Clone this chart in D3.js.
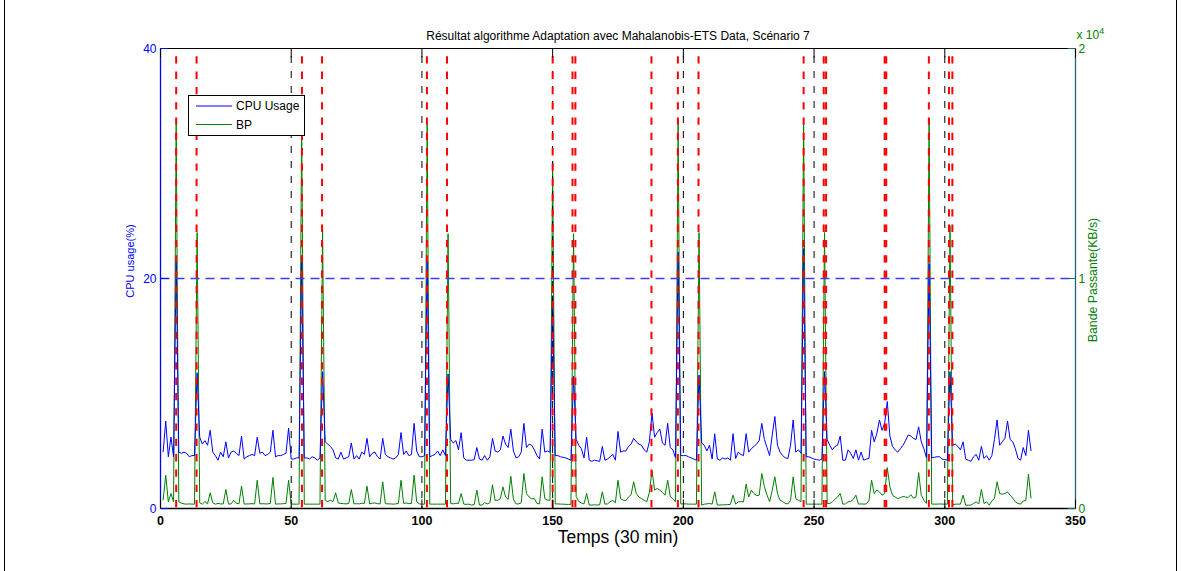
<!DOCTYPE html>
<html><head><meta charset="utf-8">
<script src="https://cdn.jsdelivr.net/npm/d3@7"></script>
<style>
body{margin:0;background:#fff}
svg{display:block}
text{font-family:"Liberation Sans",Arial,Helvetica,sans-serif}
</style>
</head><body>
<svg id="chart" width="1181" height="571"></svg>
<script>
// ---------------- DATA ----------------
const chartTitle = "Résultat algorithme Adaptation avec Mahalanobis-ETS Data, Scénario 7";
const xLabel = "Temps (30 min)";
const yLeftLabel = "CPU usage(%)";
const yRightLabel = "Bande Passante(KB/s)";
const seriesNames = ["CPU Usage", "BP"];

// CPU usage (%) for time index 1..333
const cpuUsage = [
4.9,7.6,4.5,6.2,4.5,21.5,4.9,4.8,4.9,4.8, 4.5,4.6,4.6,11.8,6.2,5.6,5.9,5.5,6.8,4.9,
4.6,4.2,4.9,4.5,5.8,4.4,4.9,5.0,4.8,4.6, 6.3,4.3,4.5,4.6,4.7,4.6,6.2,4.8,4.9,4.6,
4.7,4.9,6.8,4.5,4.6,4.6,4.7,4.8,7.0,4.3, 4.3,4.4,4.4,21.6,4.4,4.4,4.3,4.5,4.4,4.2,
4.4,11.9,5.8,5.6,5.4,5.1,4.4,4.3,4.9,4.3, 4.4,4.5,5.7,4.3,4.6,4.3,4.9,4.7,6.1,4.5,
4.8,4.9,4.5,4.3,6.1,4.7,4.5,4.4,4.3,4.4, 4.7,6.6,4.7,5.0,4.6,4.7,7.4,5.0,4.5,4.5,
4.6,21.5,4.5,4.6,4.7,5.0,4.6,5.1,4.6,11.7, 6.0,5.7,5.9,5.1,6.6,4.4,4.2,4.2,4.2,4.25,
5.3,4.3,4.2,4.6,4.2,4.5,6.1,5.0,4.9,5.1, 6.3,5.6,5.3,6.9,5.0,4.4,4.5,4.9,7.4,5.3,
5.6,5.5,5.1,4.6,4.3,6.9,4.9,5.0,4.9,18.5, 4.6,4.6,4.5,4.45,4.4,4.3,4.2,11.5,6.0,5.5,
5.2,4.4,6.2,4.2,4.1,4.2,4.15,4.1,5.4,4.2, 4.3,4.5,4.7,4.2,6.7,4.9,5.0,5.0,5.4,5.6,
6.1,5.8,5.6,5.5,5.1,4.9,5.8,8.3,6.2,6.6, 6.9,5.7,5.5,7.4,5.3,5.1,4.4,22.3,4.6,4.6,
4.6,4.5,4.4,4.3,4.2,11.6,5.7,5.5,5.0,5.5, 4.3,6.5,4.3,4.2,4.4,4.3,4.4,4.2,6.5,4.35,
4.9,4.7,4.6,6.5,4.9,5.2,5.4,5.6,5.9,7.4, 6.0,5.3,4.6,6.4,8.0,5.5,4.9,4.6,4.4,4.35,
5.5,7.7,4.9,5.1,4.8,22.6,4.5,4.5,4.4,4.3, 4.25,4.2,4.3,11.9,6.0,5.5,5.1,5.4,5.5,6.3,
4.2,4.2,5.1,4.8,4.35,5.1,4.2,4.9,4.2,4.3, 4.35,6.8,5.8,6.5,7.7,6.8,7.4,9.3,6.3,5.4,
5.1,4.9,5.2,5.5,5.9,6.4,6.3,6.1,6.0,7.1, 5.8,5.2,4.4,21.3,4.4,4.45,4.5,4.5,4.3,4.25,
4.2,11.9,5.5,5.6,5.4,5.1,5.8,4.3,4.2,4.1, 4.5,4.7,4.2,5.4,4.35,4.6,4.2,4.6,6.0,7.7,
5.5,5.8,6.1,7.6,6.0,5.8,5.2,4.35,4.2,5.3, 4.6,6.8,5.0
];

// Bande passante (KB/s) for time index 1..333
const bandePassante = [
360,1450,290,650,290,16700,290,230,200,190, 200,190,190,12000,250,190,300,200,680,245,
190,220,200,200,825,190,200,360,230,200, 970,190,200,200,210,200,1230,200,210,200,
200,220,1350,190,200,200,210,220,1230,190, 190,190,190,16800,190,190,190,190,190,190,
190,12100,360,300,360,300,680,240,220,210, 200,220,825,200,210,200,230,220,970,200,
230,240,210,200,1160,210,200,200,190,200, 220,1230,220,240,210,220,1450,290,200,190,
190,16750,190,190,190,190,190,190,190,11950, 220,200,230,220,650,190,180,190,150,170,
797,150,150,250,200,250,1030,350,360,430, 940,500,400,1400,400,200,200,250,1520,650,
500,420,430,220,200,1375,430,360,360,15070, 200,200,190,190,180,180,180,11950,520,300,
240,200,650,150,150,160,150,160,725,190, 200,300,350,250,1230,430,360,350,500,600,
1160,650,500,430,360,290,700,1650,800,870, 800,700,580,1230,520,420,300,16900,200,200,
200,190,190,190,190,12000,150,190,200,220, 190,725,150,150,160,160,170,180,580,190,
290,300,290,1060,500,797,650,560,580,1520, 950,580,300,797,1375,650,360,300,220,200,
350,1375,430,360,300,16950,190,190,190,190, 190,190,190,12000,220,220,290,400,500,650,
190,200,290,300,400,580,190,200,190,200, 350,1230,650,800,720,580,650,1780,940,580,
500,430,470,520,500,480,600,450,500,1560, 580,360,220,16980,190,190,190,200,190,190,
190,12300,150,190,190,190,580,145,145,145, 220,290,200,825,220,290,145,320,450,1160,
650,620,650,720,580,450,290,220,190,330, 350,1490,440
];

const firstTimeIndex = 1;
// anomaly detections (red dashed) and period boundaries (black dashed)
const detections = [6.0,13.8,54.1,61.8,101.9,109.6,150.0,157.6,158.7,187.8,197.9,205.8,
                    246.0,253.7,254.6,277.0,277.6,293.9,301.6,302.9];
const periodMarks = [50,100,150,200,250,300];
const cpuThreshold = 20;

const xTicks = [0,50,100,150,200,250,300,350];
const cpuTicks = [0,20,40];
const bpTicks = [0,10000,20000];
const bpTickLabels = ["0","1","2"];
const bpExponent = "4";

// ---------------- CHART ----------------
const svg = d3.select("#chart");
const W = 1181, H = 571;
const L = 160.5, R = 1075.5, T = 48.5, B = 508.5;
const BLUE = "#0000ff", GREEN = "#008000", RED = "#ff0000";

const x = d3.scaleLinear().domain([0,350]).range([L,R]);
const yL = d3.scaleLinear().domain([0,40]).range([B,T]);
const yR = d3.scaleLinear().domain([0,20000]).range([B,T]);

svg.append("rect").attr("width",W).attr("height",H).attr("fill","#fff");
// figure frame
svg.append("line").attr("x1",4.5).attr("x2",4.5).attr("y1",0).attr("y2",H).attr("stroke","#000");
svg.append("line").attr("x1",1176.5).attr("x2",1176.5).attr("y1",0).attr("y2",H).attr("stroke","#000");

const cpuData = cpuUsage.map((v,i)=>({t:i+firstTimeIndex, v}));
const bpData = bandePassante.map((v,i)=>({t:i+firstTimeIndex, v}));

const plot = svg.append("g");
plot.append("path").datum(bpData)
  .attr("d", d3.line().x(d=>x(d.t)).y(d=>yR(d.v)))
  .attr("fill","none").attr("stroke",GREEN).attr("stroke-width",1);
plot.append("path").datum(cpuData)
  .attr("d", d3.line().x(d=>x(d.t)).y(d=>yL(d.v)))
  .attr("fill","none").attr("stroke",BLUE).attr("stroke-width",1);

// threshold
plot.append("line").attr("x1",x(0)).attr("x2",x(350))
  .attr("y1",yL(cpuThreshold)).attr("y2",yL(cpuThreshold))
  .attr("stroke","#3b3bff").attr("stroke-width",1.3).attr("stroke-dasharray","9,6");

// period marks
plot.selectAll(".pm").data(periodMarks).enter().append("line")
  .attr("x1",d=>x(d)).attr("x2",d=>x(d)).attr("y1",T).attr("y2",B)
  .attr("stroke","#000").attr("stroke-width",1)
  .attr("stroke-dasharray","7,8").attr("stroke-dashoffset",7.5);

// detections
plot.selectAll(".det").data(detections).enter().append("line")
  .attr("x1",d=>x(d)).attr("x2",d=>x(d)).attr("y1",T).attr("y2",B)
  .attr("stroke",RED).attr("stroke-width",2)
  .attr("stroke-dasharray","7.3,8").attr("stroke-dashoffset",7.5);

// axes frame
svg.append("line").attr("x1",L).attr("x2",R).attr("y1",T).attr("y2",T).attr("stroke","#000");
svg.append("line").attr("x1",L).attr("x2",R).attr("y1",B).attr("y2",B).attr("stroke","#000").attr("stroke-width",1.5);
svg.append("line").attr("x1",L).attr("x2",L).attr("y1",T).attr("y2",B).attr("stroke",BLUE).attr("stroke-width",1.3);
svg.append("line").attr("x1",R).attr("x2",R).attr("y1",T).attr("y2",B).attr("stroke","#1f5f7f").attr("stroke-width",1.3);

// x ticks (inside, top & bottom)
const tickLen = 9;
const xAxisG = svg.append("g");
xAxisG.selectAll(".xtb").data(xTicks).enter().append("line")
  .attr("x1",d=>x(d)).attr("x2",d=>x(d)).attr("y1",B).attr("y2",B-tickLen).attr("stroke","#000");
xAxisG.selectAll(".xtt").data(xTicks).enter().append("line")
  .attr("x1",d=>x(d)).attr("x2",d=>x(d)).attr("y1",T).attr("y2",T+tickLen).attr("stroke","#000");
xAxisG.selectAll(".xtl").data(xTicks).enter().append("text")
  .attr("x",d=>x(d)).attr("y",B+16.5).attr("text-anchor","middle")
  .attr("font-size",12.5).attr("font-weight","bold").attr("fill","#000").text(d=>d);

// left axis ticks
const lg = svg.append("g");
lg.selectAll(".lt").data(cpuTicks).enter().append("line")
  .attr("x1",L).attr("x2",L+8).attr("y1",d=>yL(d)).attr("y2",d=>yL(d)).attr("stroke",BLUE);
lg.selectAll(".ltl").data(cpuTicks).enter().append("text")
  .attr("x",L-4).attr("y",d=>yL(d)+4).attr("text-anchor","end")
  .attr("font-size",12).attr("fill",BLUE).text(d=>d);

// right axis ticks
const rg = svg.append("g");
rg.selectAll(".rt").data(bpTicks).enter().append("line")
  .attr("x1",R).attr("x2",R-8).attr("y1",d=>yR(d)).attr("y2",d=>yR(d)).attr("stroke","#1f6f5f");
rg.selectAll(".rtl").data(bpTicks).enter().append("text")
  .attr("x",R+3).attr("y",d=>yR(d)+4.5).attr("text-anchor","start")
  .attr("font-size",12).attr("fill",GREEN).text((d,i)=>bpTickLabels[i]);
const ex = rg.append("text").attr("x",R+1).attr("y",T-9.5).attr("font-size",12).attr("fill",GREEN);
ex.append("tspan").text("x 10");
ex.append("tspan").attr("dy",-5).attr("font-size",9).text(bpExponent);

// labels
svg.append("text").attr("x",(L+R)/2).attr("y",39.5).attr("text-anchor","middle")
  .attr("font-size",12).attr("fill","#000").text(chartTitle);
svg.append("text").attr("x",(L+R)/2).attr("y",543).attr("text-anchor","middle")
  .attr("font-size",17.5).attr("fill","#000").text(xLabel);
svg.append("text").attr("transform",`translate(134,261) rotate(-90)`).attr("text-anchor","middle")
  .attr("font-size",11).attr("fill",BLUE).text(yLeftLabel);
svg.append("text").attr("transform",`translate(1097,280) rotate(-90)`).attr("text-anchor","middle")
  .attr("font-size",12.3).attr("fill",GREEN).text(yRightLabel);

// legend
const leg = svg.append("g");
leg.append("rect").attr("x",188.5).attr("y",95.5).attr("width",116).attr("height",40)
  .attr("fill","#fff").attr("stroke","#000");
const legColors = [BLUE, GREEN];
seriesNames.forEach((n,i)=>{
  const yy = 106 + i*18.5;
  leg.append("line").attr("x1",196).attr("x2",232).attr("y1",yy).attr("y2",yy).attr("stroke",legColors[i]);
  leg.append("text").attr("x",236).attr("y",yy+4.3).attr("font-size",12).attr("fill","#000").text(n);
});
</script>
</body></html>
